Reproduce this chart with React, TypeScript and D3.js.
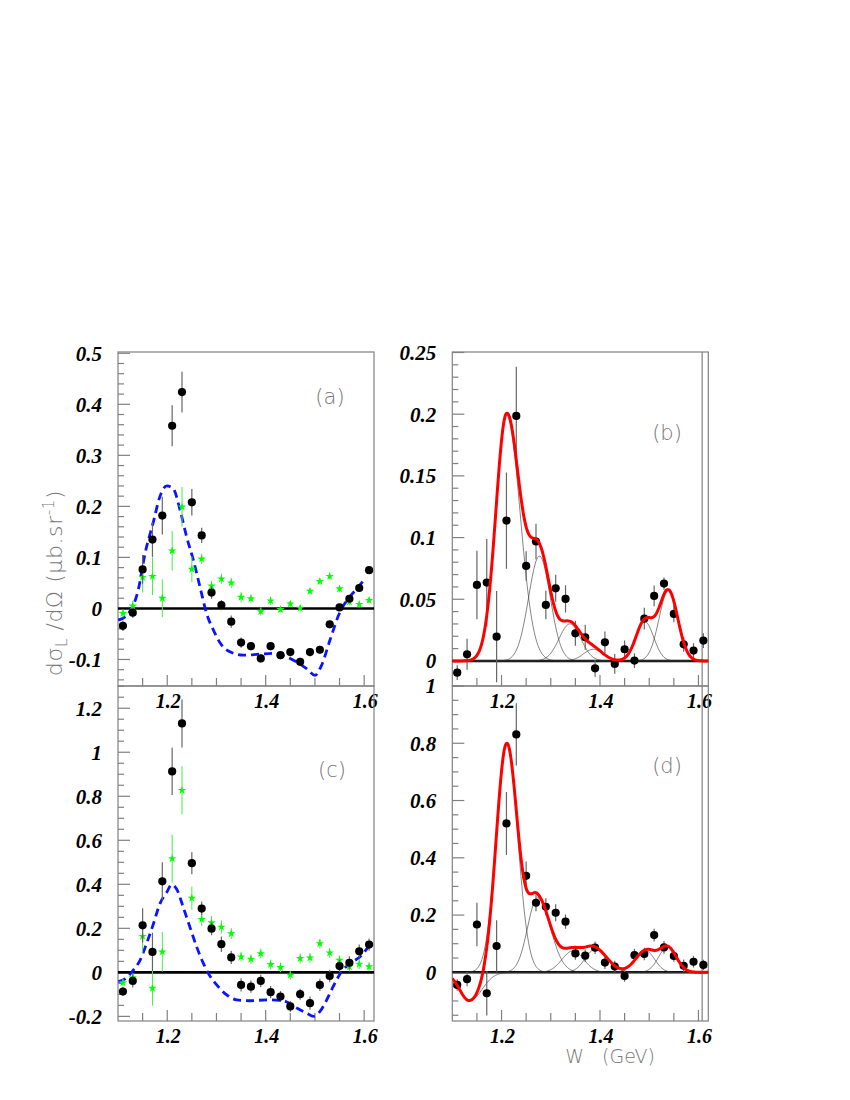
import React from "react";
import * as d3 from "d3";

// ---------- data ----------
const W_POINTS = [1.11, 1.13, 1.15, 1.17, 1.19, 1.21, 1.23, 1.25, 1.27, 1.29, 1.31, 1.33, 1.35, 1.37, 1.39, 1.41, 1.43, 1.45, 1.47, 1.49, 1.51, 1.53, 1.55, 1.57, 1.59, 1.61];

// panel (a)
const A_BLACK = [-0.034, -0.0085, 0.0765, 0.135, 0.182, 0.358, 0.424, 0.208, 0.143, 0.031, 0.0065, -0.026, -0.067, -0.074, -0.098, -0.074, -0.0915, -0.0856, -0.1046, -0.0856, -0.081, -0.031, 0.002, 0.019, 0.04, 0.075];
const A_BLACK_ERR = [0.01, 0.01, 0.028, 0.034, 0.037, 0.04, 0.04, 0.026, 0.015, 0.012, 0.01, 0.012, 0.01, 0.008, 0.008, 0.008, 0.008, 0.008, 0.008, 0.008, 0.008, 0.008, 0.006, 0.006, 0.006, 0.006];
const A_GREEN = [-0.0098, 0.005, 0.061, 0.063, 0.02, 0.113, 0.199, 0.077, 0.097, 0.044, 0.058, 0.05, 0.022, 0.019, -0.006, 0.015, -0.002, 0.009, 0.0007, 0.034, 0.053, 0.063, 0.0386, 0.013, 0.008, 0.016];
const A_GREEN_ERR = [0.008, 0.01, 0.03, 0.037, 0.037, 0.039, 0.039, 0.025, 0.01, 0.01, 0.01, 0.01, 0.01, 0.008, 0.008, 0.008, 0.006, 0.006, 0.006, 0.006, 0.006, 0.006, 0.006, 0.006, 0.006, 0.006];
const A_MODEL_W = [1.1006, 1.121, 1.141, 1.155, 1.172, 1.185, 1.199, 1.212, 1.226, 1.2395, 1.253, 1.2666, 1.28, 1.2936, 1.3106, 1.3275, 1.3546, 1.388, 1.4155, 1.4427, 1.463, 1.483, 1.5, 1.5137, 1.5306, 1.551, 1.571, 1.5916, 1.6017];
const A_MODEL = [-0.023, -0.01, 0.036, 0.108, 0.17, 0.219, 0.24, 0.235, 0.193, 0.14, 0.095, 0.042, -0.01, -0.042, -0.072, -0.085, -0.0915, -0.0895, -0.088, -0.095, -0.105, -0.118, -0.131, -0.111, -0.062, -0.0065, 0.023, 0.046, 0.059];

// panel (c)
const C_BLACK = [-0.087, -0.039, 0.2135, 0.093, 0.4135, 0.913, 1.131, 0.496, 0.29, 0.1985, 0.128, 0.068, -0.057, -0.065, -0.039, -0.09, -0.11, -0.155, -0.099, -0.14, -0.057, -0.0165, 0.0286, 0.0436, 0.096, 0.126];
const C_BLACK_ERR = [0.02, 0.03, 0.078, 0.087, 0.087, 0.107, 0.109, 0.05, 0.032, 0.03, 0.035, 0.03, 0.03, 0.028, 0.028, 0.028, 0.025, 0.025, 0.025, 0.03, 0.028, 0.028, 0.028, 0.03, 0.03, 0.028];
const C_GREEN = [-0.0466, -0.024, 0.164, -0.072, 0.093, 0.517, 0.827, 0.337, 0.2406, 0.2256, 0.206, 0.176, 0.0707, 0.06, 0.0857, 0.036, 0.0226, -0.012, 0.063, 0.066, 0.131, 0.0887, 0.0556, 0.0256, 0.0376, 0.0256];
const C_GREEN_ERR = [0.015, 0.02, 0.077, 0.079, 0.09, 0.109, 0.109, 0.053, 0.03, 0.03, 0.03, 0.025, 0.022, 0.022, 0.022, 0.022, 0.022, 0.02, 0.022, 0.022, 0.022, 0.022, 0.022, 0.022, 0.022, 0.02];
const C_MODEL_W = [1.1006, 1.118, 1.131, 1.145, 1.158, 1.172, 1.185, 1.199, 1.209, 1.219, 1.2325, 1.246, 1.2598, 1.2734, 1.2835, 1.3005, 1.3208, 1.341, 1.368, 1.402, 1.436, 1.463, 1.483, 1.497, 1.5103, 1.524, 1.537, 1.554, 1.571, 1.5916, 1.6085];
const C_MODEL = [-0.042, -0.024, 0.0105, 0.0556, 0.131, 0.221, 0.311, 0.364, 0.3985, 0.379, 0.296, 0.206, 0.116, 0.0406, -0.0045, -0.057, -0.102, -0.125, -0.129, -0.125, -0.129, -0.162, -0.185, -0.2, -0.1775, -0.125, -0.0647, 0.003, 0.0406, 0.0707, 0.116];

// panel (b)
const B_BLACK = [-0.0095, 0.0054, 0.0616, 0.0635, 0.0197, 0.1138, 0.1986, 0.077, 0.0968, 0.0454, 0.0589, 0.0503, 0.0224, 0.0192, -0.006, 0.0151, -0.0024, 0.0095, 0.0003, 0.0343, 0.0527, 0.0627, 0.0381, 0.0135, 0.0084, 0.0165];
const B_BLACK_ERR = [0.006, 0.0126, 0.0277, 0.0354, 0.0369, 0.039, 0.0398, 0.012, 0.0144, 0.0115, 0.011, 0.011, 0.0101, 0.0101, 0.0068, 0.0088, 0.008, 0.007, 0.006, 0.0088, 0.0084, 0.005, 0.0068, 0.006, 0.006, 0.006];
// fitted components: centre (GeV), height, left/right width
const B_COMP_CENTER = [1.2105, 1.277, 1.339, 1.3865, 1.491, 1.539];
const B_COMP_HEIGHT = [0.2, 0.085, 0.03, 0.0095, 0.032, 0.057];
const B_COMP_SIGL = [0.022, 0.022, 0.022, 0.02, 0.018, 0.019];
const B_COMP_SIGR = [0.027, 0.022, 0.022, 0.02, 0.018, 0.019];

// panel (d)
const D_BLACK = [-0.044, -0.024, 0.167, -0.073, 0.092, 0.52, 0.831, 0.337, 0.243, 0.229, 0.208, 0.177, 0.066, 0.058, 0.086, 0.034, 0.02, -0.0128, 0.06, 0.064, 0.13, 0.087, 0.057, 0.023, 0.037, 0.026];
const D_BLACK_ERR = [0.02, 0.025, 0.076, 0.078, 0.09, 0.11, 0.109, 0.05, 0.03, 0.03, 0.03, 0.025, 0.022, 0.022, 0.022, 0.022, 0.02, 0.02, 0.022, 0.022, 0.022, 0.022, 0.02, 0.022, 0.02, 0.018];
const D_COMP_CENTER = [1.135, 1.2105, 1.273, 1.345, 1.39, 1.493, 1.537];
const D_COMP_HEIGHT = [-0.1, 0.8, 0.26, 0.075, 0.08, 0.075, 0.088];
const D_COMP_SIGL = [0.02, 0.021, 0.02, 0.022, 0.02, 0.021, 0.018];
const D_COMP_SIGR = [0.025, 0.022, 0.026, 0.022, 0.025, 0.018, 0.018];

const X_TICK_LABELS = [1.2, 1.4, 1.6];

// ---------- layout ----------
const X_DOMAIN: [number, number] = [1.1, 1.62];
const LEFT_X = 118;
const RIGHT_X = 452.3;
const PW = 256;
const TOP_Y = 352;
const MID_Y = 686;
const BOT_Y = 1021;

const FRAME = "#808080";
const TICK_FONT = "'Liberation Serif', 'Times New Roman', serif";
const LABEL_FONT = "'DejaVu Sans', sans-serif";

function sampleGrid(): number[] {
  const n = 261;
  return d3.range(n).map((i) => X_DOMAIN[0] + (i * (X_DOMAIN[1] - X_DOMAIN[0])) / (n - 1));
}

function component(c: number, h: number, sl: number, sr: number) {
  return (w: number) => {
    const s = w < c ? sl : sr;
    return h * Math.exp(-((w - c) * (w - c)) / (2 * s * s));
  };
}

type PanelProps = {
  x0: number;
  y0: number;
  y1: number;
  yDomain: [number, number];
  yMajor: number[];
  yMinorStep: number;
  tag: string;
  tagPos: [number, number];
  black: number[];
  blackErr: number[];
  green?: number[];
  greenErr?: number[];
  modelW?: number[];
  modelV?: number[];
  comps?: { c: number[]; h: number[]; sl: number[]; sr: number[] };
  extraVLine?: boolean;
};

function fmt(v: number): string {
  if (Math.abs(v) < 1e-9) return "0";
  return String(+v.toFixed(2));
}

function Star({ x, y }: { x: number; y: number }) {
  const p = d3.symbol().type(d3.symbolStar).size(22)();
  return <path d={p as string} transform={`translate(${x},${y})`} fill="#00ff00" />;
}

function Panel(props: PanelProps) {
  const { x0, y0, y1, yDomain } = props;
  const x = d3.scaleLinear().domain(X_DOMAIN).range([x0, x0 + PW]);
  const y = d3.scaleLinear().domain(yDomain).range([y1, y0]);
  const clipId = `clip-${props.tag.replace(/[()]/g, "")}`;

  const eps = 1e-9;
  const minorTicks: number[] = [];
  const start = Math.ceil((yDomain[0] - eps) / props.yMinorStep);
  const end = Math.floor((yDomain[1] + eps) / props.yMinorStep);
  for (let i = start; i <= end; i++) minorTicks.push(+(i * props.yMinorStep).toFixed(6));

  const xMinor: number[] = [];
  for (let i = 23; i <= 32; i++) xMinor.push(+(i * 0.05).toFixed(4));

  const line = d3
    .line<[number, number]>()
    .x((d) => x(d[0]))
    .y((d) => y(d[1]))
    .curve(d3.curveMonotoneX);

  let compPaths: string[] = [];
  let totalPath = "";
  if (props.comps) {
    const grid = sampleGrid();
    const fns = props.comps.c.map((c, i) =>
      component(c, props.comps!.h[i], props.comps!.sl[i], props.comps!.sr[i])
    );
    compPaths = fns.map((f) => line(grid.map((w) => [w, f(w)] as [number, number])) as string);
    totalPath = line(grid.map((w) => [w, fns.reduce((s, f) => s + f(w), 0)] as [number, number])) as string;
  }

  return (
    <g>
      <defs>
        <clipPath id={clipId}>
          <rect x={x0} y={y0} width={PW} height={y1 - y0} />
        </clipPath>
      </defs>
      <rect x={x0} y={y0} width={PW} height={y1 - y0} fill="none" stroke={FRAME} strokeWidth={1.2} />
      {props.extraVLine && (
        <line x1={x(1.6075)} x2={x(1.6075)} y1={y0} y2={y1} stroke={FRAME} strokeWidth={1.2} />
      )}
      {minorTicks.map((t) => {
        const major = props.yMajor.some((m) => Math.abs(m - t) < 1e-6);
        return (
          <line key={`yt${t}`} x1={x0} x2={x0 + (major ? 12 : 6)} y1={y(t)} y2={y(t)} stroke={FRAME} strokeWidth={1.2} />
        );
      })}
      {props.yMajor.map((t) => (
        <text
          key={`yl${t}`}
          x={x0 - 16}
          y={y(t)}
          dy="0.35em"
          textAnchor="end"
          fontFamily={TICK_FONT}
          fontWeight="bold"
          fontStyle="italic"
          fontSize={21}
          fill="#000"
        >
          {fmt(t)}
        </text>
      ))}
      {xMinor.map((t) => {
        const major = X_TICK_LABELS.some((m) => Math.abs(m - t) < 1e-6);
        return (
          <line key={`xt${t}`} x1={x(t)} x2={x(t)} y1={y1} y2={y1 - (major ? 11 : 8)} stroke={FRAME} strokeWidth={1.2} />
        );
      })}
      {X_TICK_LABELS.map((t) => (
        <text
          key={`xl${t}`}
          x={x(t) + 1}
          y={y1 + 22}
          textAnchor="middle"
          fontFamily={TICK_FONT}
          fontWeight="bold"
          fontStyle="italic"
          fontSize={20}
          fill="#000"
        >
          {t.toFixed(1)}
        </text>
      ))}
      <g clipPath={`url(#${clipId})`}>
        <line x1={x0} x2={x0 + PW} y1={y(0)} y2={y(0)} stroke="#000" strokeWidth={2.6} />
        {compPaths.map((p, i) => (
          <path key={`cp${i}`} d={p} fill="none" stroke="#333" strokeWidth={0.6} />
        ))}
        {props.modelW && props.modelV && (
          <path
            d={line(props.modelW.map((w, i) => [w, props.modelV![i]] as [number, number])) as string}
            fill="none"
            stroke="#0a14ff"
            strokeWidth={2.8}
            strokeDasharray="8,5"
          />
        )}
        {props.green &&
          props.green.map((v, i) => (
            <g key={`g${i}`}>
              <line
                x1={x(W_POINTS[i])}
                x2={x(W_POINTS[i])}
                y1={y(v - props.greenErr![i])}
                y2={y(v + props.greenErr![i])}
                stroke="#44ee44"
                strokeWidth={1}
              />
              <Star x={x(W_POINTS[i])} y={y(v)} />
            </g>
          ))}
        {props.black.map((v, i) => (
          <g key={`b${i}`}>
            <line
              x1={x(W_POINTS[i])}
              x2={x(W_POINTS[i])}
              y1={y(v - props.blackErr[i])}
              y2={y(v + props.blackErr[i])}
              stroke="#666"
              strokeWidth={1.2}
            />
            <circle cx={x(W_POINTS[i])} cy={y(v)} r={4.1} fill="#000" />
          </g>
        ))}
        {totalPath && <path d={totalPath} fill="none" stroke="#ff0000" strokeWidth={3} />}
      </g>
      <text
        x={props.tagPos[0]}
        y={props.tagPos[1]}
        textAnchor="middle"
        fontFamily={LABEL_FONT}
        fontWeight={200}
        fontSize={21}
        fill="#777"
      >
        {props.tag}
      </text>
    </g>
  );
}

export default function App() {
  return (
    <svg width={850} height={1100} style={{ position: "absolute", left: 0, top: 0, background: "#fff" }}>
      <Panel
        x0={LEFT_X}
        y0={TOP_Y}
        y1={MID_Y}
        yDomain={[-0.152, 0.5025]}
        yMajor={[-0.1, 0, 0.1, 0.2, 0.3, 0.4, 0.5]}
        yMinorStep={0.02}
        tag="(a)"
        tagPos={[330, 404]}
        black={A_BLACK}
        blackErr={A_BLACK_ERR}
        green={A_GREEN}
        greenErr={A_GREEN_ERR}
        modelW={A_MODEL_W}
        modelV={A_MODEL}
      />
      <Panel
        x0={RIGHT_X}
        y0={TOP_Y}
        y1={MID_Y}
        yDomain={[-0.0203, 0.2504]}
        yMajor={[0, 0.05, 0.1, 0.15, 0.2, 0.25]}
        yMinorStep={0.01}
        tag="(b)"
        tagPos={[667, 440]}
        black={B_BLACK}
        blackErr={B_BLACK_ERR}
        comps={{ c: B_COMP_CENTER, h: B_COMP_HEIGHT, sl: B_COMP_SIGL, sr: B_COMP_SIGR }}
        extraVLine
      />
      <Panel
        x0={LEFT_X}
        y0={MID_Y}
        y1={BOT_Y}
        yDomain={[-0.221, 1.301]}
        yMajor={[-0.2, 0, 0.2, 0.4, 0.6, 0.8, 1, 1.2]}
        yMinorStep={0.05}
        tag="(c)"
        tagPos={[332, 777]}
        black={C_BLACK}
        blackErr={C_BLACK_ERR}
        green={C_GREEN}
        greenErr={C_GREEN_ERR}
        modelW={C_MODEL_W}
        modelV={C_MODEL}
      />
      <Panel
        x0={RIGHT_X}
        y0={MID_Y}
        y1={BOT_Y}
        yDomain={[-0.17, 1.0]}
        yMajor={[0, 0.2, 0.4, 0.6, 0.8, 1]}
        yMinorStep={0.05}
        tag="(d)"
        tagPos={[667, 773]}
        black={D_BLACK}
        blackErr={D_BLACK_ERR}
        comps={{ c: D_COMP_CENTER, h: D_COMP_HEIGHT, sl: D_COMP_SIGL, sr: D_COMP_SIGR }}
        extraVLine
      />
      <text
        transform="translate(62,583) rotate(-90)"
        textAnchor="middle"
        fontFamily={LABEL_FONT}
        fontWeight={200}
        fontSize={22}
        letterSpacing={0.6}
        fill="#777"
      >
        dσ
        <tspan fontSize={15} dy={5}>L</tspan>
        <tspan dy={-5}> /dΩ  (μb.sr</tspan>
        <tspan fontSize={15} dy={-8}>-1</tspan>
        <tspan dy={8}>)</tspan>
      </text>
      <text
        x={610}
        y={1063}
        textAnchor="middle"
        fontFamily={LABEL_FONT}
        fontWeight={200}
        fontSize={19}
        fill="#777"
        style={{ whiteSpace: "pre" }}
      >
        {"W   (GeV)"}
      </text>
    </svg>
  );
}
